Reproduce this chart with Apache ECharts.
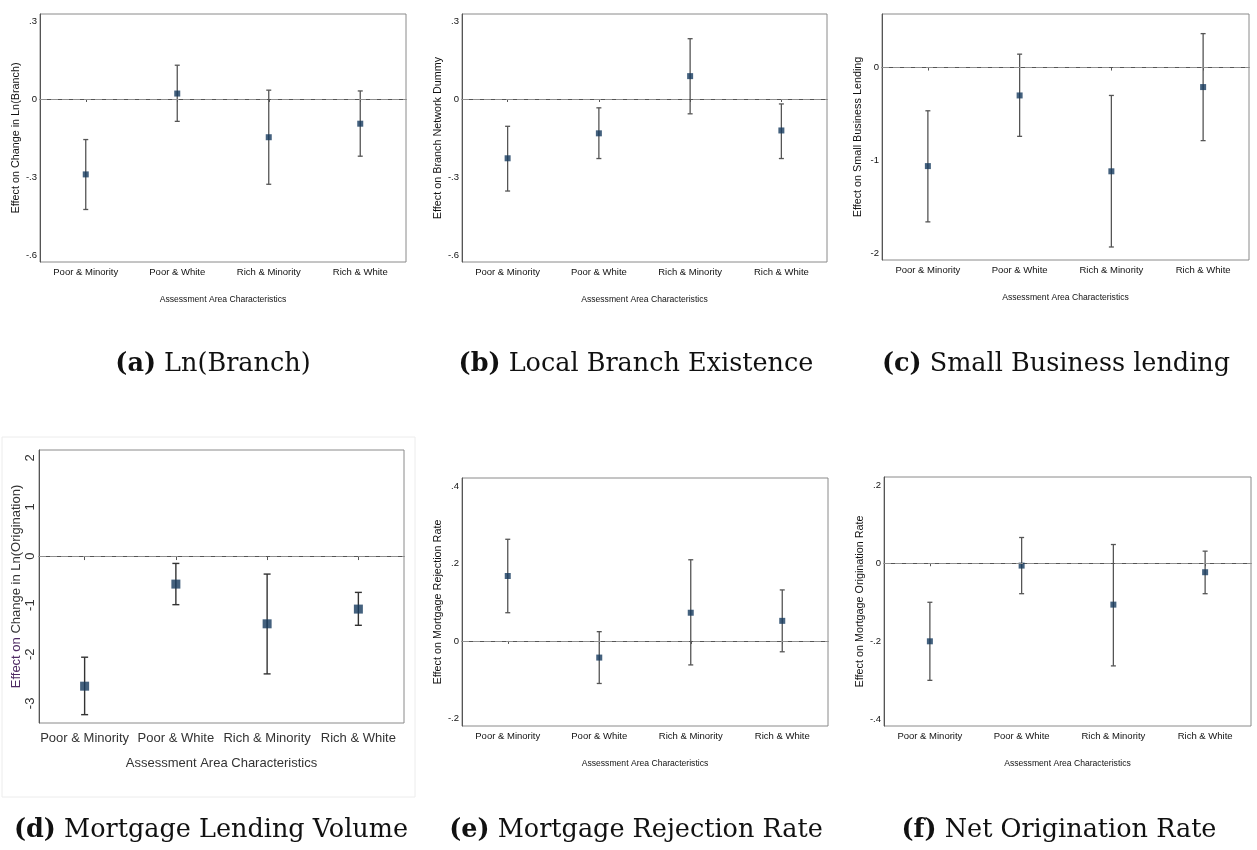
<!DOCTYPE html>
<html>
<head>
<meta charset="utf-8">
<script src="https://cdn.jsdelivr.net/npm/echarts@6/dist/echarts.min.js"></script>
<style>
html,body{margin:0;padding:0;background:#fff;}
#chart{width:1257px;height:850px;}
</style>
</head>
<body>
<div id="chart"></div>
<script>
// ---------- DATA ----------
const categories = ['Poor & Minority', 'Poor & White', 'Rich & Minority', 'Rich & White'];

// (a) Ln(Branch)
const aPoint = [-0.290, 0.021, -0.147, -0.095];
const aLow   = [-0.425, -0.086, -0.328, -0.220];
const aHigh  = [-0.156, 0.130, 0.034, 0.031];
const aTicks = [-0.6, -0.3, 0, 0.3];

// (b) Local Branch Existence
const bPoint = [-0.228, -0.132, 0.088, -0.121];
const bLow   = [-0.354, -0.229, -0.057, -0.229];
const bHigh  = [-0.105, -0.034, 0.232, -0.019];
const bTicks = [-0.6, -0.3, 0, 0.3];

// (c) Small Business lending
const cPoint = [-1.06, -0.30, -1.116, -0.21];
const cLow   = [-1.66, -0.74, -1.93, -0.786];
const cHigh  = [-0.465, 0.144, -0.30, 0.365];
const cTicks = [-2, -1, 0];

// (d) Mortgage Lending Volume
const dPoint = [-2.65, -0.571, -1.38, -1.08];
const dLow   = [-3.23, -0.99, -2.40, -1.41];
const dHigh  = [-2.06, -0.15, -0.367, -0.74];
const dTicks = [-3, -2, -1, 0, 1, 2];

// (e) Mortgage Rejection Rate
const ePoint = [0.168, -0.043, 0.073, 0.052];
const eLow   = [0.073, -0.110, -0.062, -0.028];
const eHigh  = [0.263, 0.024, 0.210, 0.132];
const eTicks = [-0.2, 0, 0.2, 0.4];

// (f) Net Origination Rate
const fPoint = [-0.200, -0.006, -0.106, -0.023];
const fLow   = [-0.300, -0.078, -0.263, -0.078];
const fHigh  = [-0.100, 0.066, 0.048, 0.031];
const fTicks = [-0.4, -0.2, 0, 0.2];

const yTitles = [
  'Effect on Change in Ln(Branch)',
  'Effect on Branch Network Dummy',
  'Effect on Small Business Lending',
  '{p|Effect on} Change in Ln(Origination)',
  'Effect on Mortgage Rejection Rate',
  'Effect on Mortgage Origination Rate'
];
const xTitle = 'Assessment Area Characteristics';
const captions = [
  ['(a)', 'Ln(Branch)'],
  ['(b)', 'Local Branch Existence'],
  ['(c)', 'Small Business lending'],
  ['(d)', 'Mortgage Lending Volume'],
  ['(e)', 'Mortgage Rejection Rate'],
  ['(f)', 'Net Origination Rate']
];

// ---------- LAYOUT ----------
const panels = [
  {pt: aPoint, lo: aLow, hi: aHigh, ticks: aTicks, min: -0.627, max: 0.327, grid: {left: 40, top: 14, width: 366, height: 248}},
  {pt: bPoint, lo: bLow, hi: bHigh, ticks: bTicks, min: -0.627, max: 0.327, grid: {left: 462, top: 14, width: 365, height: 248}},
  {pt: cPoint, lo: cLow, hi: cHigh, ticks: cTicks, min: -2.07, max: 0.576, grid: {left: 882, top: 14, width: 367, height: 246}},
  {pt: dPoint, lo: dLow, hi: dHigh, ticks: dTicks, min: -3.40, max: 2.16, grid: {left: 39, top: 450, width: 365, height: 273}, big: true},
  {pt: ePoint, lo: eLow, hi: eHigh, ticks: eTicks, min: -0.22, max: 0.4215, grid: {left: 462, top: 478, width: 366, height: 248}},
  {pt: fPoint, lo: fLow, hi: fHigh, ticks: fTicks, min: -0.417, max: 0.221, grid: {left: 884, top: 477, width: 367, height: 249}}
];

function fmt(v) {
  if (Math.abs(v) < 1e-9) return '0';
  const s = String(Math.round(Math.abs(v) * 1000) / 1000).replace(/^0/, '');
  return (v < 0 ? '-' : '') + s;
}

const FONT = 'Liberation Sans';
const grids = [], xAxes = [], yAxes = [], series = [];

panels.forEach((p, i) => {
  const big = !!p.big;
  grids.push(Object.assign({show: true, borderColor: '#8a8a8a', borderWidth: 1, backgroundColor: '#fff'}, p.grid));
  xAxes.push({
    type: 'category', gridIndex: i, data: categories, boundaryGap: true,
    axisLine: {lineStyle: {color: '#555', width: 1}},
    axisTick: {show: true, alignWithLabel: true, length: big ? 4 : 3, lineStyle: {color: '#555'}},
    axisLabel: {interval: 0, fontFamily: FONT, fontSize: big ? 13 : 9.5, color: big ? '#333' : '#111', margin: big ? 9 : 5},
    name: xTitle, nameLocation: 'middle', nameGap: big ? 34 : 33,
    nameTextStyle: {fontFamily: FONT, fontSize: big ? 13 : 8.6, color: big ? '#333' : '#111'},
    splitLine: {show: false}
  });
  yAxes.push({
    type: 'value', gridIndex: i, min: p.min, max: p.max,
    axisLine: {show: true, lineStyle: {color: '#555', width: 1}},
    axisTick: {show: false},
    splitLine: {show: false},
    axisLabel: {
      customValues: p.ticks, formatter: fmt, fontFamily: FONT,
      fontSize: big ? 13 : 9.5, color: big ? '#333' : '#111', margin: big ? 2 : 3,
      rotate: big ? 90 : 0
    },
    name: yTitles[i], nameLocation: 'middle', nameGap: big ? 14 : 18.5, nameRotate: 90,
    nameTextStyle: {fontFamily: FONT, fontSize: big ? 13 : 10.8, color: big ? '#333' : '#111',
      rich: {p: {fontFamily: FONT, fontSize: 13, color: '#4e2a63'}}}
  });
  const errData = categories.map((c, k) => [k, p.lo[k], p.hi[k]]);
  series.push({
    type: 'custom', xAxisIndex: i, yAxisIndex: i, data: errData, z: 3, silent: true,
    renderItem: function (params, api) {
      const x = api.value(0);
      const lo = api.coord([x, api.value(1)]);
      const hi = api.coord([x, api.value(2)]);
      const cap = big ? 3.5 : 2.5;
      const st = {stroke: big ? '#333' : '#555', lineWidth: big ? 1.4 : 1.3};
      return {type: 'group', children: [
        {type: 'line', shape: {x1: lo[0], y1: lo[1], x2: hi[0], y2: hi[1]}, style: st},
        {type: 'line', shape: {x1: lo[0] - cap, y1: lo[1], x2: lo[0] + cap, y2: lo[1]}, style: st},
        {type: 'line', shape: {x1: hi[0] - cap, y1: hi[1], x2: hi[0] + cap, y2: hi[1]}, style: st}
      ]};
    }
  });
  series.push({
    type: 'scatter', xAxisIndex: i, yAxisIndex: i, z: 4, silent: true,
    data: categories.map((c, k) => [k, p.pt[k]]),
    symbol: 'rect', symbolSize: big ? 9 : 6,
    itemStyle: {color: '#153a5e'},
    markLine: {
      silent: true, symbol: ['none', 'none'], label: {show: false},
      lineStyle: {color: '#909090', type: [7, 4], width: 1},
      data: [{yAxis: 0}]
    }
  });
});

const capCenters = [
  [208, 359], [631, 359], [1051, 359],
  [206, 825], [631, 825], [1054, 825]
];
const CAPFONT = 'DejaVu Serif';
const titles = captions.map((c, i) => ({
  text: '{b|' + c[0] + '} ' + c[1],
  left: capCenters[i][0], top: capCenters[i][1],
  textAlign: 'center', textVerticalAlign: 'middle',
  textStyle: {
    fontFamily: CAPFONT, fontSize: 25.5, fontWeight: 'normal', color: '#111',
    rich: {b: {fontFamily: CAPFONT, fontSize: 25.5, fontWeight: 'bold', color: '#111'}}
  }
}));

const chart = echarts.init(document.getElementById('chart'), null, {renderer: 'canvas'});
chart.setOption({
  animation: false,
  backgroundColor: '#fff',
  title: titles,
  graphic: [{
    type: 'rect', z: -10, silent: true,
    shape: {x: 2, y: 437, width: 413, height: 360},
    style: {fill: 'none', stroke: '#ececec', lineWidth: 1}
  }],
  grid: grids, xAxis: xAxes, yAxis: yAxes, series: series
});
</script>
</body>
</html>
